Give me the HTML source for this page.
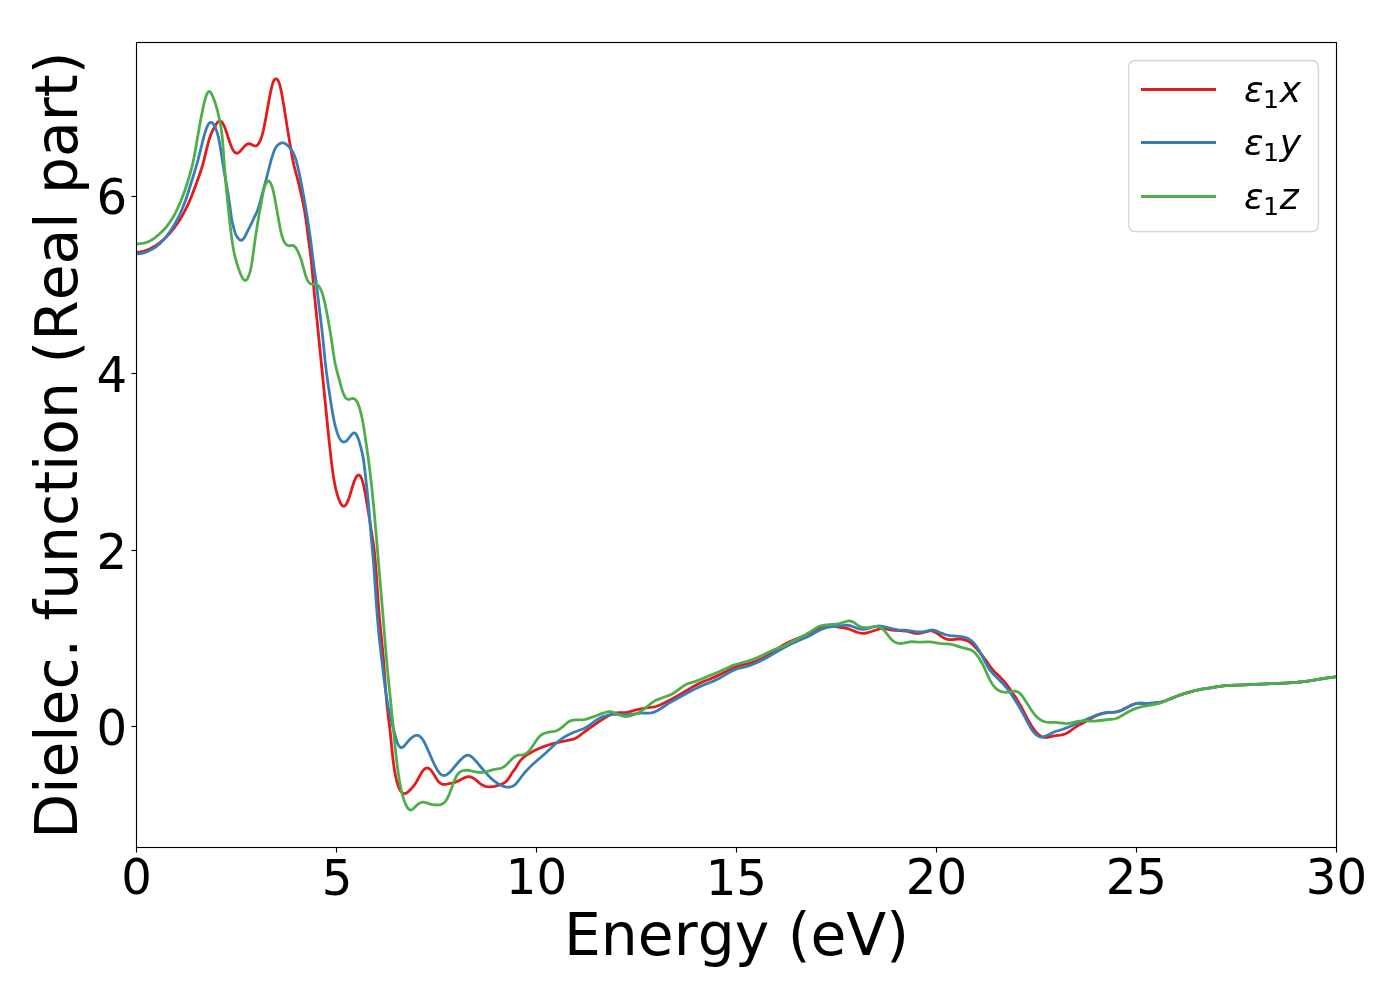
<!DOCTYPE html>
<html lang="en">
<head>
<meta charset="utf-8">
<title>Dielectric function (Real part)</title>
<style>
html,body{margin:0;padding:0;background:#fff;}
body{width:1400px;height:1000px;overflow:hidden;}
svg{display:block;}
text{font-family:'DejaVu Sans', 'Liberation Sans', sans-serif;fill:#000;font-kerning:none;}
.tick{font-size:48.61px;}
.lab{font-size:58.33px;}
.leg{font-size:36.11px;font-style:oblique;}
.sub{font-size:25.28px;font-style:normal;}
.crv{fill:none;stroke-width:2.78;stroke-linejoin:round;stroke-linecap:butt;}
</style>
</head>
<body>
<svg width="1400" height="1000" viewBox="0 0 1400 1000">
<rect x="0" y="0" width="1400" height="1000" fill="#ffffff"/>
<defs><clipPath id="ax"><rect x="136.5" y="42.5" width="1200" height="805"/></clipPath></defs>
<g clip-path="url(#ax)">
<path class="crv" stroke="#e41a1c" d="M136.50 252.20 L138.50 252.14 L140.50 251.91 L143.00 251.40 L145.50 250.66 L148.50 249.49 L152.00 247.78 L155.50 245.71 L159.00 243.27 L162.50 240.44 L166.00 237.22 L169.50 233.56 L173.00 229.44 L176.00 225.48 L179.00 221.08 L182.00 216.17 L184.50 211.65 L187.00 206.67 L189.50 201.17 L192.00 195.11 L194.50 188.60 L197.00 181.78 L199.50 174.77 L201.50 168.76 L203.00 163.72 L204.00 160.00 L205.50 153.89 L207.00 147.60 L208.00 143.61 L209.00 140.00 L210.00 136.90 L211.00 134.26 L212.00 131.96 L213.50 128.94 L215.50 125.29 L216.50 123.69 L217.00 122.99 L217.50 122.38 L218.00 121.86 L218.50 121.45 L219.00 121.16 L219.50 121.00 L220.00 120.99 L220.50 121.12 L221.00 121.38 L221.50 121.78 L222.00 122.31 L222.50 122.97 L223.00 123.75 L223.50 124.64 L224.00 125.65 L224.50 126.77 L225.50 129.33 L227.00 133.75 L229.00 140.02 L230.00 143.00 L231.00 145.70 L232.00 148.06 L232.50 149.08 L233.00 150.00 L233.50 150.80 L234.00 151.48 L234.50 152.05 L235.00 152.50 L235.50 152.84 L236.00 153.06 L236.50 153.18 L237.00 153.19 L237.50 153.10 L238.00 152.91 L238.50 152.63 L239.00 152.29 L239.50 151.87 L240.50 150.89 L244.00 146.87 L245.00 145.84 L246.00 144.96 L246.50 144.59 L247.00 144.28 L247.50 144.02 L248.00 143.84 L248.50 143.73 L249.00 143.70 L249.50 143.75 L250.00 143.87 L250.50 144.05 L253.50 145.57 L254.00 145.76 L254.50 145.91 L255.00 145.98 L255.50 145.97 L256.00 145.87 L256.50 145.66 L257.00 145.34 L257.50 144.90 L258.00 144.34 L258.50 143.68 L259.00 142.90 L259.50 142.01 L260.00 141.00 L260.50 139.88 L261.00 138.63 L261.50 137.23 L262.00 135.67 L262.50 133.94 L263.00 132.00 L263.50 129.86 L264.50 125.05 L266.00 117.00 L267.50 108.58 L269.00 100.28 L270.50 92.49 L271.50 87.87 L272.00 85.83 L272.50 84.03 L273.00 82.50 L273.50 81.26 L274.00 80.30 L274.50 79.60 L275.00 79.14 L275.50 78.88 L276.00 78.80 L276.50 78.89 L277.00 79.17 L277.50 79.64 L278.00 80.34 L278.50 81.29 L279.00 82.50 L279.50 83.99 L280.00 85.75 L280.50 87.76 L281.00 89.98 L282.00 95.00 L283.50 103.62 L284.50 109.83 L285.50 116.19 L286.50 122.56 L287.50 128.88 L288.50 135.08 L289.50 141.13 L290.50 147.07 L292.00 155.74 L293.00 160.99 L294.00 165.54 L295.50 171.45 L297.50 178.90 L299.00 184.89 L300.50 191.27 L302.00 198.00 L303.50 205.19 L304.50 210.55 L305.50 216.62 L306.50 223.63 L307.50 231.37 L308.50 239.22 L309.50 246.62 L310.50 254.01 L311.00 258.18 L311.50 262.91 L312.50 273.74 L313.50 285.00 L314.50 295.39 L315.50 305.15 L316.50 314.92 L317.50 324.92 L318.50 335.00 L319.50 345.03 L320.50 355.01 L321.50 365.00 L322.50 375.00 L323.50 385.00 L324.50 394.99 L325.50 404.99 L326.50 415.03 L327.50 425.07 L328.50 435.00 L329.50 444.69 L330.50 453.93 L331.50 462.48 L332.50 470.18 L333.50 476.96 L334.00 480.00 L334.50 482.80 L335.00 485.37 L335.50 487.73 L336.00 489.90 L337.00 493.73 L338.00 497.00 L339.00 499.82 L339.50 501.05 L340.00 502.17 L340.50 503.16 L341.00 504.02 L341.50 504.75 L342.00 505.34 L342.50 505.78 L343.00 506.08 L343.50 506.22 L344.00 506.20 L344.50 506.02 L345.00 505.68 L345.50 505.20 L346.00 504.56 L346.50 503.79 L347.00 502.88 L347.50 501.84 L348.00 500.67 L349.00 498.00 L350.00 494.92 L352.00 488.24 L353.00 485.00 L354.00 482.07 L354.50 480.75 L355.00 479.54 L355.50 478.45 L356.00 477.49 L356.50 476.67 L357.00 476.00 L357.50 475.50 L358.00 475.16 L358.50 475.00 L359.00 475.03 L359.50 475.26 L360.00 475.70 L360.50 476.34 L361.00 477.21 L361.50 478.30 L362.00 479.62 L362.50 481.19 L363.00 483.00 L363.50 485.06 L364.50 489.81 L366.00 498.00 L367.50 506.79 L368.50 512.89 L369.50 519.15 L370.50 525.52 L371.50 531.87 L372.50 538.10 L373.50 544.72 L374.00 548.51 L374.50 552.83 L375.00 557.80 L375.50 563.55 L376.00 570.04 L376.50 577.04 L377.00 584.35 L377.50 591.77 L378.00 599.07 L378.50 606.05 L379.00 612.51 L379.50 618.37 L380.50 628.85 L381.50 638.55 L382.50 648.57 L383.00 654.04 L383.50 660.00 L384.00 666.52 L384.50 673.43 L385.00 680.47 L385.50 687.41 L386.00 694.00 L386.50 700.00 L387.00 705.24 L387.50 709.84 L388.50 717.89 L389.50 725.70 L390.00 730.00 L391.00 739.83 L392.00 750.15 L392.50 755.00 L393.00 759.41 L393.50 763.38 L394.00 766.96 L394.50 770.17 L395.00 773.05 L395.50 775.65 L396.00 778.00 L396.50 780.13 L397.00 782.06 L397.50 783.80 L398.00 785.35 L398.50 786.74 L399.00 787.97 L399.50 789.05 L400.00 790.00 L400.50 790.82 L401.00 791.52 L401.50 792.11 L402.00 792.58 L402.50 792.96 L403.00 793.24 L403.50 793.43 L404.00 793.53 L404.50 793.55 L405.00 793.50 L405.50 793.38 L406.00 793.20 L406.50 792.96 L407.00 792.66 L408.00 791.94 L409.00 791.06 L411.50 788.45 L413.50 786.11 L415.00 784.12 L416.00 782.64 L417.00 781.00 L420.00 775.43 L421.50 772.79 L422.50 771.28 L423.00 770.62 L423.50 770.03 L424.00 769.51 L424.50 769.07 L425.00 768.69 L425.50 768.40 L426.00 768.18 L426.50 768.04 L427.00 767.98 L427.50 768.00 L428.00 768.11 L428.50 768.29 L429.00 768.55 L429.50 768.89 L430.00 769.30 L430.50 769.77 L431.50 770.90 L432.50 772.25 L434.00 774.62 L436.50 778.83 L437.50 780.33 L438.00 781.00 L438.50 781.60 L439.00 782.12 L439.50 782.58 L440.00 782.98 L440.50 783.32 L441.00 783.61 L441.50 783.85 L442.00 784.04 L443.00 784.30 L444.00 784.42 L445.00 784.42 L446.50 784.26 L452.50 782.97 L455.00 782.34 L456.50 781.81 L459.00 780.63 L463.50 778.22 L465.00 777.54 L466.00 777.18 L467.00 776.90 L468.00 776.74 L469.00 776.70 L470.00 776.80 L471.00 777.03 L472.00 777.39 L473.00 777.88 L474.00 778.50 L475.50 779.64 L479.50 783.11 L481.00 784.21 L482.50 785.11 L484.00 785.81 L485.50 786.32 L487.00 786.66 L488.50 786.84 L490.00 786.88 L492.00 786.75 L494.50 786.34 L498.00 785.47 L500.50 784.62 L502.50 783.75 L504.00 782.95 L505.00 782.30 L506.00 781.52 L507.00 780.56 L508.00 779.40 L509.00 778.00 L511.50 773.78 L512.50 772.29 L514.50 769.70 L515.50 768.23 L518.00 764.00 L519.00 762.47 L520.00 761.11 L521.00 759.90 L522.00 758.83 L523.50 757.42 L525.50 755.84 L528.00 754.17 L533.50 751.09 L539.00 748.43 L545.00 746.09 L551.00 744.21 L557.00 742.66 L563.00 741.40 L569.00 740.22 L572.50 739.38 L574.00 738.89 L575.50 738.25 L577.00 737.43 L579.00 736.08 L584.00 732.25 L589.00 728.70 L594.00 725.19 L599.00 721.69 L604.00 718.35 L608.00 716.01 L611.00 714.55 L613.00 713.77 L615.00 713.18 L616.50 712.87 L618.50 712.67 L624.50 712.62 L626.50 712.43 L629.00 711.93 L635.00 710.22 L641.00 708.77 L646.00 707.77 L652.00 707.16 L654.50 706.84 L656.00 706.50 L657.50 706.02 L660.50 704.74 L666.00 702.01 L671.50 699.22 L677.00 696.22 L682.50 693.02 L688.00 689.71 L693.50 686.43 L698.00 684.00 L703.50 681.57 L709.50 679.20 L715.50 676.62 L721.00 674.01 L726.50 671.26 L732.00 668.51 L735.50 666.92 L738.00 666.00 L741.50 665.11 L747.50 663.88 L752.50 662.40 L758.50 660.11 L762.50 658.26 L767.00 655.72 L772.50 652.10 L777.50 648.65 L783.00 645.16 L788.50 642.21 L794.00 639.76 L800.00 637.50 L806.00 635.31 L809.00 634.00 L814.50 630.94 L818.00 629.00 L820.50 627.88 L823.00 627.02 L825.50 626.39 L827.50 626.07 L829.50 625.92 L831.50 625.96 L833.50 626.20 L839.50 627.41 L845.50 628.19 L847.50 628.57 L849.50 629.17 L855.50 631.61 L858.00 632.49 L860.00 633.00 L861.50 633.23 L863.00 633.32 L864.50 633.26 L866.00 633.05 L868.50 632.45 L874.50 630.51 L878.50 629.22 L880.50 628.74 L882.00 628.54 L883.00 628.50 L884.50 628.59 L890.50 629.79 L894.50 630.29 L900.50 630.62 L905.00 630.99 L908.00 631.50 L914.00 633.03 L916.00 633.39 L917.50 633.50 L919.00 633.44 L920.50 633.22 L926.50 631.55 L928.50 631.06 L929.50 630.92 L930.50 630.86 L931.50 630.92 L932.50 631.11 L933.50 631.43 L934.50 631.87 L936.00 632.69 L941.00 636.13 L943.00 637.43 L944.50 638.25 L946.00 638.89 L947.50 639.34 L949.00 639.62 L950.50 639.71 L952.50 639.61 L957.00 639.06 L958.50 638.99 L960.50 639.08 L962.50 639.37 L964.50 639.85 L966.50 640.51 L968.00 641.14 L969.50 641.96 L970.50 642.63 L971.50 643.40 L973.00 644.77 L975.50 647.43 L979.50 652.16 L983.50 657.13 L986.00 660.50 L989.50 665.64 L991.00 667.70 L992.50 669.52 L994.50 671.65 L999.00 675.97 L1002.50 679.61 L1005.50 683.11 L1009.50 688.42 L1013.00 693.47 L1016.50 698.86 L1020.00 704.74 L1023.00 710.22 L1026.00 715.91 L1029.00 721.53 L1031.00 725.00 L1032.50 727.37 L1034.00 729.52 L1035.50 731.42 L1037.00 733.07 L1038.00 734.03 L1039.00 734.87 L1040.00 735.59 L1041.00 736.20 L1042.00 736.69 L1043.00 737.06 L1044.00 737.31 L1045.00 737.46 L1046.00 737.50 L1047.00 737.44 L1048.50 737.20 L1054.00 735.80 L1060.00 735.10 L1062.00 734.80 L1063.50 734.44 L1065.00 733.95 L1066.50 733.31 L1068.00 732.50 L1070.00 731.18 L1075.00 727.50 L1078.00 725.65 L1083.50 722.68 L1089.00 719.56 L1094.50 716.61 L1098.00 715.00 L1101.00 713.88 L1103.50 713.18 L1106.00 712.70 L1112.00 712.28 L1115.00 712.05 L1117.00 711.73 L1118.50 711.36 L1120.50 710.67 L1123.50 709.31 L1129.00 706.37 L1131.50 705.13 L1133.50 704.32 L1135.50 703.73 L1137.50 703.35 L1139.50 703.18 L1145.50 703.42 L1148.50 703.49 L1154.50 702.97 L1159.50 702.38 L1162.00 701.86 L1165.50 700.77 L1171.50 698.37 L1177.50 695.93 L1183.50 693.85 L1189.50 692.14 L1195.50 690.53 L1201.50 689.22 L1207.50 688.27 L1213.50 687.33 L1219.50 686.36 L1225.50 685.66 L1231.50 685.33 L1237.50 685.17 L1243.50 684.97 L1249.50 684.67 L1255.50 684.34 L1261.50 684.03 L1267.50 683.77 L1273.50 683.55 L1279.50 683.32 L1285.50 683.06 L1291.50 682.72 L1297.50 682.25 L1303.50 681.60 L1309.50 680.77 L1315.50 679.84 L1321.50 678.85 L1327.50 677.90 L1333.50 677.06 L1336.50 676.70"/>
<path class="crv" stroke="#377eb8" d="M136.50 253.90 L138.00 253.91 L140.00 253.73 L142.00 253.36 L144.50 252.64 L147.50 251.48 L151.50 249.52 L154.50 247.75 L157.00 246.01 L159.00 244.39 L161.00 242.55 L163.50 239.90 L166.00 236.92 L169.00 232.92 L172.00 228.52 L174.50 224.48 L177.00 220.03 L179.00 216.10 L181.00 211.80 L183.00 207.07 L185.00 201.83 L187.00 196.02 L189.00 189.72 L191.00 183.23 L193.00 176.81 L195.00 170.41 L197.00 163.64 L198.50 158.09 L200.00 152.12 L201.50 145.99 L203.00 140.00 L204.50 134.44 L205.50 131.13 L206.50 128.25 L207.00 127.00 L207.50 125.89 L208.00 124.93 L208.50 124.12 L209.00 123.45 L209.50 122.94 L210.00 122.57 L210.50 122.36 L211.00 122.30 L211.50 122.40 L212.00 122.64 L212.50 123.03 L213.00 123.56 L213.50 124.21 L214.00 124.99 L214.50 125.89 L215.00 126.89 L215.50 128.00 L216.00 129.21 L216.50 130.55 L217.00 132.03 L217.50 133.69 L218.00 135.56 L218.50 137.65 L219.00 140.00 L219.50 142.62 L220.50 148.49 L221.50 154.84 L222.50 161.27 L223.50 167.47 L224.50 173.43 L226.00 182.00 L227.50 190.41 L228.50 196.44 L229.50 203.26 L230.50 210.94 L231.00 214.63 L231.50 217.89 L232.00 220.66 L232.50 223.05 L233.50 227.18 L234.50 230.80 L235.00 232.37 L235.50 233.75 L236.00 234.91 L236.50 235.87 L237.00 236.68 L237.50 237.37 L238.50 238.59 L239.00 239.13 L239.50 239.60 L240.00 239.97 L240.50 240.22 L241.00 240.32 L241.50 240.27 L242.00 240.07 L242.50 239.74 L243.00 239.27 L243.50 238.69 L244.00 238.00 L244.50 237.21 L245.50 235.41 L248.50 229.41 L251.50 223.28 L254.50 216.96 L256.00 213.82 L257.00 211.52 L258.00 208.91 L259.00 205.87 L260.00 202.32 L262.00 194.74 L264.00 187.43 L266.00 180.00 L267.50 174.16 L269.00 168.26 L271.00 160.72 L272.00 157.24 L273.00 154.07 L274.00 151.30 L274.50 150.08 L275.00 149.00 L275.50 148.05 L276.00 147.23 L276.50 146.52 L277.00 145.91 L277.50 145.38 L278.50 144.50 L279.50 143.79 L280.00 143.50 L280.50 143.26 L281.00 143.06 L281.50 142.92 L282.00 142.83 L282.50 142.80 L283.00 142.83 L283.50 142.92 L284.00 143.07 L284.50 143.26 L285.50 143.80 L286.50 144.50 L287.50 145.35 L288.50 146.32 L290.00 148.00 L291.00 149.26 L292.00 150.70 L293.00 152.41 L293.50 153.39 L294.00 154.47 L294.50 155.66 L295.00 156.97 L295.50 158.42 L296.00 160.00 L297.00 163.61 L298.00 167.71 L299.50 174.58 L301.00 181.98 L302.50 189.79 L304.00 198.00 L305.50 206.63 L306.50 212.62 L307.50 218.82 L308.50 225.24 L309.50 231.96 L310.50 239.16 L311.50 247.00 L312.50 255.20 L313.50 263.06 L314.50 270.36 L315.50 277.51 L316.50 285.00 L317.50 293.13 L318.50 301.62 L319.50 310.00 L320.50 318.02 L321.50 326.14 L322.50 335.00 L323.50 344.95 L324.50 355.16 L325.50 364.51 L326.50 372.66 L327.50 380.00 L328.50 386.90 L329.50 393.53 L330.50 400.00 L331.50 406.37 L332.50 412.46 L333.50 418.00 L334.50 422.81 L335.50 426.92 L336.50 430.43 L337.50 433.45 L338.00 434.79 L338.50 436.02 L339.00 437.13 L339.50 438.12 L340.00 439.00 L340.50 439.76 L341.00 440.40 L341.50 440.93 L342.00 441.35 L342.50 441.67 L343.00 441.88 L343.50 441.99 L344.00 442.00 L344.50 441.92 L345.00 441.75 L345.50 441.50 L346.00 441.17 L346.50 440.78 L347.00 440.32 L348.00 439.25 L351.00 435.32 L351.50 434.71 L352.00 434.16 L352.50 433.70 L353.00 433.33 L353.50 433.08 L354.00 432.96 L354.50 433.00 L355.00 433.21 L355.50 433.59 L356.00 434.14 L356.50 434.85 L357.00 435.74 L357.50 436.79 L358.00 438.00 L358.50 439.37 L359.50 442.53 L361.00 448.00 L362.00 452.05 L362.50 454.37 L363.00 456.99 L363.50 460.00 L364.00 463.46 L365.00 471.49 L366.00 480.41 L367.00 489.59 L368.00 499.15 L368.50 504.35 L369.00 510.00 L369.50 516.14 L370.00 522.55 L370.50 528.93 L371.00 535.00 L372.00 545.79 L373.00 556.47 L373.50 562.49 L374.00 569.14 L374.50 576.26 L375.00 583.68 L375.50 591.21 L376.00 598.66 L376.50 605.87 L377.00 612.65 L377.50 618.92 L378.50 630.15 L379.50 640.01 L380.50 648.96 L381.50 657.47 L382.50 665.95 L383.50 674.38 L384.50 682.49 L385.50 690.00 L386.50 696.69 L387.50 702.61 L388.50 707.92 L390.00 715.00 L391.50 721.39 L393.00 727.32 L395.00 734.87 L396.00 738.45 L397.00 741.64 L397.50 743.00 L398.00 744.17 L398.50 745.15 L399.00 745.96 L399.50 746.59 L400.00 747.07 L400.50 747.39 L401.00 747.57 L401.50 747.62 L402.00 747.54 L402.50 747.35 L403.00 747.05 L403.50 746.67 L404.00 746.22 L405.00 745.13 L408.00 741.40 L409.50 739.76 L411.00 738.33 L412.50 737.12 L413.50 736.43 L414.50 735.88 L415.00 735.66 L415.50 735.49 L416.00 735.36 L416.50 735.29 L417.00 735.28 L417.50 735.33 L418.00 735.44 L418.50 735.61 L419.00 735.85 L419.50 736.14 L420.00 736.51 L420.50 736.93 L421.00 737.42 L421.50 737.97 L422.50 739.26 L423.50 740.80 L424.50 742.57 L426.00 745.57 L428.50 751.15 L431.00 756.96 L433.50 762.60 L435.00 765.74 L436.50 768.57 L437.50 770.24 L438.50 771.70 L439.50 772.93 L440.00 773.46 L440.50 773.93 L441.00 774.33 L441.50 774.68 L442.00 774.97 L442.50 775.20 L443.00 775.36 L443.50 775.46 L444.00 775.50 L444.50 775.48 L445.00 775.39 L445.50 775.25 L446.00 775.06 L446.50 774.81 L447.50 774.19 L448.50 773.41 L450.00 772.00 L452.00 769.82 L456.00 765.00 L459.50 761.01 L462.00 758.50 L463.50 757.19 L464.50 756.44 L465.50 755.84 L466.00 755.61 L466.50 755.42 L467.00 755.29 L467.50 755.21 L468.00 755.20 L468.50 755.25 L469.00 755.36 L469.50 755.53 L470.00 755.76 L471.00 756.35 L472.00 757.11 L473.50 758.49 L476.00 761.20 L480.00 766.00 L484.00 770.74 L488.50 775.70 L491.50 778.66 L494.00 780.83 L496.50 782.69 L499.00 784.25 L501.00 785.31 L503.00 786.17 L504.50 786.66 L506.00 787.01 L507.50 787.19 L508.50 787.21 L509.50 787.14 L510.50 786.97 L511.50 786.70 L512.50 786.29 L513.50 785.75 L514.50 785.06 L515.50 784.20 L516.50 783.17 L518.00 781.38 L522.00 776.00 L524.50 772.88 L527.50 769.53 L532.00 765.09 L536.50 761.05 L541.50 756.69 L546.00 752.68 L550.50 748.53 L555.00 744.29 L559.00 740.79 L561.50 738.89 L564.50 736.92 L568.50 734.72 L574.00 732.26 L580.00 730.00 L583.50 728.70 L585.50 727.77 L587.00 726.90 L590.00 724.79 L595.00 721.00 L597.50 719.37 L600.00 718.01 L602.50 716.89 L605.00 716.00 L608.00 715.22 L611.00 714.71 L615.00 714.38 L621.00 714.39 L627.00 714.52 L631.00 714.40 L637.00 713.57 L640.00 713.20 L646.00 713.20 L649.00 713.17 L651.00 712.95 L652.50 712.64 L654.00 712.16 L655.50 711.53 L658.00 710.21 L663.50 706.72 L669.00 703.12 L674.50 699.93 L680.00 697.00 L685.50 693.98 L691.00 690.96 L696.50 688.13 L702.00 685.64 L708.00 683.27 L714.00 680.88 L718.50 678.79 L724.00 675.64 L729.50 672.28 L733.00 670.44 L735.50 669.36 L738.00 668.50 L744.00 667.18 L747.00 666.50 L750.00 665.54 L756.00 663.06 L761.50 660.47 L767.00 657.52 L772.50 654.35 L778.00 651.16 L783.50 647.99 L789.00 645.01 L794.50 642.37 L800.50 639.79 L806.50 637.22 L811.00 634.96 L816.50 631.82 L820.00 629.99 L823.00 628.69 L825.50 627.85 L828.00 627.26 L832.00 626.70 L838.00 626.22 L844.00 625.41 L846.00 625.24 L847.50 625.26 L849.00 625.44 L850.50 625.79 L856.50 627.96 L858.50 628.63 L860.00 629.00 L861.50 629.22 L863.00 629.29 L864.50 629.21 L866.00 629.00 L868.50 628.39 L874.00 626.72 L876.00 626.28 L877.50 626.07 L879.00 626.00 L880.50 626.08 L882.50 626.37 L888.50 627.87 L894.00 629.20 L898.00 629.81 L904.00 630.21 L908.00 630.50 L914.00 631.43 L917.50 631.89 L919.50 632.00 L921.50 631.94 L924.00 631.64 L930.00 630.26 L931.50 630.02 L932.50 629.98 L933.50 630.05 L934.50 630.25 L936.00 630.72 L941.50 633.16 L944.50 634.29 L947.00 635.00 L950.00 635.53 L956.00 636.08 L961.50 636.73 L964.50 637.33 L966.00 637.76 L967.50 638.32 L968.50 638.80 L969.50 639.37 L970.50 640.05 L971.50 640.85 L972.50 641.75 L974.00 643.32 L975.50 645.13 L977.00 647.19 L978.50 649.49 L980.50 652.89 L983.50 658.54 L986.50 664.37 L988.00 667.07 L989.00 668.70 L990.00 670.15 L991.00 671.45 L992.50 673.17 L997.00 677.65 L1001.50 682.18 L1005.00 686.00 L1008.00 689.67 L1010.50 693.10 L1014.00 698.41 L1017.50 704.06 L1021.00 710.00 L1024.00 715.37 L1027.00 721.00 L1030.00 726.69 L1031.50 729.24 L1032.50 730.71 L1033.50 732.00 L1034.50 733.11 L1035.50 734.07 L1036.50 734.90 L1037.50 735.61 L1038.50 736.19 L1039.50 736.63 L1040.50 736.92 L1041.00 737.00 L1042.00 737.04 L1043.00 736.93 L1044.00 736.70 L1045.50 736.18 L1051.00 733.43 L1053.50 732.22 L1056.00 731.25 L1062.00 729.50 L1068.00 727.33 L1074.00 724.76 L1079.50 722.35 L1085.00 719.95 L1090.50 717.48 L1095.50 715.43 L1099.50 714.13 L1103.00 713.29 L1107.50 712.62 L1113.50 712.18 L1116.00 711.91 L1118.00 711.50 L1120.00 710.87 L1122.50 709.80 L1128.00 706.91 L1131.50 705.13 L1133.50 704.32 L1135.50 703.73 L1137.50 703.35 L1139.50 703.18 L1145.50 703.42 L1148.50 703.49 L1154.50 702.97 L1159.50 702.38 L1162.00 701.86 L1165.50 700.77 L1171.50 698.37 L1177.50 695.93 L1183.50 693.85 L1189.50 692.14 L1195.50 690.53 L1201.50 689.22 L1207.50 688.27 L1213.50 687.33 L1219.50 686.36 L1225.50 685.66 L1231.50 685.33 L1237.50 685.17 L1243.50 684.97 L1249.50 684.67 L1255.50 684.34 L1261.50 684.03 L1267.50 683.77 L1273.50 683.55 L1279.50 683.32 L1285.50 683.06 L1291.50 682.72 L1297.50 682.25 L1303.50 681.60 L1309.50 680.77 L1315.50 679.84 L1321.50 678.85 L1327.50 677.90 L1333.50 677.06 L1336.50 676.70"/>
<path class="crv" stroke="#4daf4a" d="M136.50 244.00 L140.50 243.70 L143.50 243.20 L146.00 242.54 L148.00 241.82 L150.00 240.90 L152.00 239.77 L154.50 238.08 L157.50 235.71 L161.50 232.08 L164.50 228.99 L167.00 226.07 L169.00 223.43 L171.00 220.49 L173.00 217.21 L175.00 213.59 L177.50 208.57 L180.00 203.00 L182.50 196.84 L184.50 191.43 L186.50 185.53 L188.50 179.13 L190.50 172.23 L192.00 166.55 L193.00 162.31 L194.00 157.55 L195.50 149.52 L197.00 140.86 L198.50 132.10 L200.00 123.60 L201.50 115.55 L203.00 108.13 L204.00 103.67 L205.00 99.73 L205.50 98.00 L206.00 96.44 L206.50 95.07 L207.00 93.90 L207.50 92.95 L208.00 92.22 L208.50 91.73 L209.00 91.50 L209.50 91.53 L210.00 91.79 L210.50 92.28 L211.00 92.95 L211.50 93.78 L212.00 94.75 L213.00 97.00 L214.00 99.53 L215.00 102.34 L216.00 105.48 L217.00 109.00 L218.00 112.93 L219.00 117.27 L220.00 122.00 L220.50 124.54 L221.00 127.40 L221.50 130.78 L222.00 134.91 L222.50 140.00 L223.00 146.15 L223.50 152.98 L224.00 160.00 L224.50 166.78 L225.00 173.22 L225.50 179.30 L226.50 190.32 L227.50 200.21 L228.50 209.80 L229.50 219.33 L230.50 228.37 L231.50 236.55 L232.00 240.19 L232.50 243.54 L233.00 246.60 L233.50 249.42 L234.00 252.00 L235.00 256.57 L236.00 260.49 L237.00 263.91 L238.50 268.46 L239.50 271.23 L240.50 273.76 L241.50 276.00 L242.00 277.00 L242.50 277.91 L243.00 278.71 L243.50 279.38 L244.00 279.91 L244.50 280.29 L245.00 280.48 L245.50 280.48 L246.00 280.28 L246.50 279.87 L247.00 279.27 L247.50 278.48 L248.00 277.50 L248.50 276.34 L249.00 275.00 L249.50 273.49 L250.00 271.77 L250.50 269.80 L251.00 267.54 L251.50 264.95 L252.00 262.00 L252.50 258.67 L253.50 251.27 L254.50 243.72 L255.50 236.83 L256.50 230.41 L257.50 224.01 L258.50 217.77 L259.50 212.12 L261.00 204.21 L262.50 195.66 L263.00 193.00 L263.50 190.69 L264.00 188.73 L264.50 187.08 L265.00 185.68 L265.50 184.50 L266.00 183.50 L266.50 182.64 L267.00 181.93 L267.50 181.41 L268.00 181.09 L268.50 181.00 L269.00 181.16 L269.50 181.55 L270.00 182.17 L270.50 182.99 L271.00 184.00 L271.50 185.19 L272.00 186.57 L272.50 188.17 L273.00 190.00 L273.50 192.08 L274.50 196.84 L276.00 205.00 L277.50 213.58 L279.00 222.00 L280.00 227.27 L281.00 232.01 L281.50 234.12 L282.00 236.00 L282.50 237.64 L283.00 239.07 L283.50 240.29 L284.00 241.33 L284.50 242.23 L285.00 243.00 L285.50 243.66 L286.00 244.23 L286.50 244.70 L287.00 245.09 L287.50 245.38 L288.00 245.60 L288.50 245.74 L289.00 245.80 L289.50 245.80 L291.50 245.48 L292.00 245.43 L292.50 245.43 L293.00 245.50 L293.50 245.66 L294.00 245.92 L294.50 246.27 L295.00 246.74 L295.50 247.31 L296.00 248.00 L296.50 248.81 L297.50 250.70 L299.50 255.15 L300.50 257.65 L301.00 259.07 L301.50 260.66 L302.50 264.27 L304.00 270.00 L305.00 273.47 L306.00 276.49 L306.50 277.81 L307.00 279.00 L307.50 280.05 L308.00 280.96 L308.50 281.74 L309.00 282.40 L309.50 282.95 L310.00 283.40 L310.50 283.75 L311.00 284.00 L311.50 284.17 L312.00 284.28 L313.00 284.34 L315.00 284.30 L315.50 284.35 L316.00 284.44 L316.50 284.58 L317.00 284.80 L317.50 285.09 L318.00 285.46 L318.50 285.93 L319.00 286.50 L319.50 287.18 L320.00 287.99 L320.50 288.92 L321.00 289.98 L321.50 291.17 L322.00 292.51 L322.50 294.00 L323.00 295.64 L324.00 299.37 L325.00 303.66 L326.00 308.46 L327.50 316.42 L329.00 324.83 L330.50 333.62 L331.50 340.00 L332.50 346.88 L333.50 353.77 L334.50 360.00 L335.00 362.69 L335.50 365.12 L336.50 369.36 L338.50 376.89 L340.50 384.47 L341.50 388.00 L342.50 391.15 L343.00 392.56 L343.50 393.85 L344.00 394.99 L344.50 396.00 L345.00 396.86 L345.50 397.57 L346.00 398.15 L346.50 398.60 L347.00 398.94 L347.50 399.17 L348.00 399.30 L348.50 399.35 L349.00 399.32 L350.00 399.12 L351.50 398.69 L352.00 398.58 L352.50 398.51 L353.00 398.50 L353.50 398.57 L354.00 398.72 L354.50 398.96 L355.00 399.30 L355.50 399.75 L356.00 400.31 L356.50 401.00 L357.00 401.81 L357.50 402.76 L358.00 403.85 L358.50 405.08 L359.00 406.47 L359.50 408.00 L360.00 409.69 L361.00 413.54 L362.00 418.00 L363.00 423.07 L364.00 428.83 L365.00 435.37 L366.00 442.45 L367.00 449.47 L368.00 456.41 L369.00 463.76 L370.00 471.78 L371.00 480.45 L372.00 489.70 L373.00 499.54 L374.00 510.00 L375.00 521.09 L376.00 532.65 L377.00 544.49 L378.00 556.43 L379.00 568.28 L380.00 580.06 L381.00 591.89 L382.00 603.89 L382.50 610.00 L383.00 616.19 L383.50 622.43 L384.00 628.68 L384.50 634.91 L385.00 641.08 L385.50 647.16 L386.50 658.87 L387.50 669.81 L388.50 680.13 L389.50 690.08 L390.50 699.93 L391.50 709.84 L392.50 719.90 L393.50 730.15 L394.50 740.42 L395.50 750.32 L396.50 759.44 L397.50 767.58 L398.50 774.76 L399.50 781.01 L400.50 786.39 L401.50 791.01 L402.50 795.00 L403.50 798.45 L404.50 801.41 L405.00 802.72 L405.50 803.91 L406.00 805.00 L406.50 805.98 L407.00 806.87 L407.50 807.64 L408.00 808.31 L408.50 808.87 L409.00 809.32 L409.50 809.66 L410.00 809.89 L410.50 810.00 L411.00 810.00 L411.50 809.89 L412.00 809.67 L412.50 809.37 L413.00 808.99 L414.00 808.07 L416.50 805.51 L417.50 804.62 L418.50 803.86 L419.50 803.23 L420.50 802.73 L421.50 802.39 L422.50 802.20 L423.50 802.17 L424.50 802.28 L425.50 802.49 L430.50 804.15 L432.50 804.62 L434.50 804.90 L437.00 805.01 L438.50 804.96 L439.50 804.85 L440.50 804.64 L441.50 804.31 L442.50 803.81 L443.00 803.50 L443.50 803.13 L444.00 802.72 L444.50 802.24 L445.00 801.70 L445.50 801.10 L446.00 800.43 L446.50 799.69 L447.50 797.98 L448.50 795.94 L449.50 793.61 L452.00 787.00 L454.00 781.60 L455.00 779.14 L456.00 777.00 L456.50 776.08 L457.00 775.26 L457.50 774.53 L458.00 773.88 L458.50 773.31 L459.00 772.82 L459.50 772.38 L460.50 771.67 L461.50 771.13 L462.50 770.75 L463.50 770.50 L464.50 770.35 L466.00 770.26 L468.00 770.34 L471.00 770.78 L477.00 772.08 L479.00 772.39 L480.50 772.50 L482.00 772.46 L484.00 772.20 L487.00 771.49 L492.50 769.85 L494.50 769.41 L499.00 768.73 L500.50 768.36 L501.50 768.01 L502.50 767.58 L503.50 767.03 L504.50 766.38 L505.50 765.59 L507.00 764.20 L511.50 759.49 L513.00 758.08 L514.00 757.25 L515.00 756.53 L516.00 755.94 L517.00 755.50 L518.00 755.22 L519.00 755.06 L522.50 754.81 L523.50 754.63 L524.50 754.33 L525.50 753.87 L526.50 753.26 L527.50 752.48 L528.50 751.53 L529.50 750.42 L531.00 748.48 L534.50 743.22 L536.50 740.21 L538.00 738.17 L539.00 737.00 L540.00 736.01 L541.00 735.19 L542.00 734.51 L543.00 733.96 L544.50 733.30 L546.00 732.80 L548.50 732.24 L554.00 731.40 L555.50 731.03 L556.50 730.70 L557.50 730.28 L559.00 729.48 L560.50 728.49 L562.50 726.93 L567.00 722.93 L568.00 722.16 L569.00 721.50 L570.00 720.98 L571.00 720.59 L572.00 720.31 L573.50 720.05 L576.00 719.90 L581.50 719.91 L583.50 719.74 L585.50 719.36 L589.50 718.17 L595.50 715.97 L601.50 713.66 L605.00 712.50 L607.00 711.99 L608.50 711.76 L609.50 711.70 L610.50 711.74 L611.50 711.89 L612.50 712.14 L614.00 712.67 L619.50 715.06 L621.50 715.76 L623.00 716.16 L624.50 716.41 L625.50 716.49 L626.50 716.49 L628.00 716.34 L630.00 715.92 L634.50 714.48 L637.00 713.48 L639.00 712.47 L641.50 710.91 L645.00 708.31 L650.00 704.20 L652.50 702.33 L654.50 701.09 L657.00 699.84 L663.00 697.53 L669.00 695.41 L671.50 694.31 L673.50 693.20 L676.50 691.15 L681.50 687.38 L684.00 685.66 L686.00 684.49 L687.50 683.78 L689.50 683.04 L695.50 681.34 L701.50 679.00 L707.50 676.48 L713.50 674.11 L719.50 671.56 L725.00 669.00 L730.50 666.41 L734.00 665.00 L740.00 663.27 L746.00 661.71 L752.00 659.67 L758.00 657.27 L763.50 654.75 L769.00 651.98 L774.50 649.57 L780.50 647.36 L784.50 645.73 L790.00 642.82 L795.50 639.74 L801.00 637.05 L805.50 634.72 L811.00 631.32 L816.00 628.08 L818.00 626.97 L819.50 626.30 L821.00 625.79 L823.00 625.31 L826.50 624.84 L832.50 624.48 L836.00 624.21 L838.00 623.91 L840.00 623.44 L846.00 621.50 L847.50 621.14 L848.50 621.00 L849.50 620.97 L850.50 621.07 L851.50 621.30 L852.50 621.68 L853.50 622.19 L854.50 622.84 L857.50 625.15 L858.50 625.82 L859.50 626.37 L860.50 626.81 L861.50 627.15 L863.00 627.50 L864.50 627.68 L866.00 627.72 L868.00 627.59 L874.00 626.60 L875.50 626.47 L876.50 626.47 L877.50 626.56 L878.50 626.75 L879.50 627.07 L880.50 627.52 L881.50 628.13 L882.50 628.91 L883.50 629.85 L885.00 631.51 L889.00 636.59 L890.50 638.42 L891.50 639.51 L892.50 640.45 L893.50 641.23 L894.50 641.87 L895.50 642.38 L896.50 642.79 L897.50 643.11 L898.50 643.34 L899.50 643.47 L900.50 643.51 L902.00 643.41 L904.50 642.95 L908.50 642.03 L910.00 641.80 L912.00 641.69 L918.00 642.09 L921.00 642.21 L927.00 641.97 L929.50 641.97 L932.00 642.20 L938.00 643.22 L941.00 643.60 L947.00 643.89 L950.00 644.15 L952.00 644.50 L955.00 645.34 L960.50 647.14 L966.50 648.60 L969.00 649.30 L970.50 649.85 L971.50 650.32 L972.50 650.90 L973.50 651.60 L974.50 652.44 L975.50 653.45 L976.50 654.59 L978.00 656.55 L979.50 658.76 L981.00 661.22 L982.50 663.96 L984.00 667.00 L986.50 672.63 L988.50 677.07 L990.00 680.06 L991.50 682.72 L992.50 684.28 L993.50 685.67 L994.50 686.89 L995.50 687.95 L996.50 688.87 L997.50 689.65 L998.50 690.32 L999.50 690.87 L1000.50 691.33 L1001.50 691.69 L1002.50 691.95 L1004.00 692.20 L1005.50 692.28 L1007.50 692.17 L1013.00 691.27 L1014.00 691.19 L1015.00 691.20 L1016.00 691.34 L1017.00 691.62 L1018.00 692.07 L1019.00 692.69 L1020.00 693.50 L1021.00 694.51 L1022.00 695.70 L1023.50 697.74 L1027.00 703.18 L1030.50 708.78 L1032.50 711.75 L1034.00 713.77 L1035.50 715.57 L1037.00 717.11 L1038.50 718.41 L1040.00 719.50 L1041.50 720.39 L1043.00 721.09 L1044.50 721.62 L1046.00 722.00 L1048.00 722.30 L1054.00 722.48 L1060.00 722.86 L1065.50 723.46 L1067.00 723.53 L1068.50 723.46 L1070.50 723.15 L1076.50 721.63 L1079.50 721.05 L1082.00 720.80 L1085.00 720.81 L1091.00 721.18 L1094.50 721.13 L1100.50 720.50 L1106.50 719.75 L1112.50 719.18 L1114.50 718.88 L1116.00 718.50 L1117.50 717.95 L1119.50 717.01 L1125.00 713.81 L1130.00 711.00 L1134.00 709.13 L1137.50 707.83 L1141.50 706.72 L1147.50 705.58 L1153.50 704.59 L1158.00 703.59 L1162.00 702.32 L1168.00 699.87 L1174.00 697.30 L1180.00 695.00 L1186.00 693.12 L1192.00 691.45 L1198.00 689.93 L1204.00 688.80 L1210.00 687.90 L1216.00 686.91 L1222.00 686.02 L1228.00 685.49 L1234.00 685.26 L1240.00 685.10 L1246.00 684.85 L1252.00 684.53 L1258.00 684.20 L1264.00 683.92 L1270.00 683.68 L1276.00 683.45 L1282.00 683.22 L1288.00 682.93 L1294.00 682.54 L1300.00 682.00 L1306.00 681.27 L1312.00 680.39 L1318.00 679.43 L1324.00 678.45 L1330.00 677.53 L1336.00 676.76 L1336.50 676.70"/>
</g>
<g stroke="#000" stroke-width="1.11" fill="none" stroke-linecap="butt">
<rect x="136.5" y="42.5" width="1200" height="805" stroke-linejoin="miter"/>
<line x1="136.5" y1="847.5" x2="136.5" y2="852.55"/>
<line x1="336.5" y1="847.5" x2="336.5" y2="852.55"/>
<line x1="536.5" y1="847.5" x2="536.5" y2="852.55"/>
<line x1="736.5" y1="847.5" x2="736.5" y2="852.55"/>
<line x1="936.5" y1="847.5" x2="936.5" y2="852.55"/>
<line x1="1136.5" y1="847.5" x2="1136.5" y2="852.55"/>
<line x1="1336.5" y1="847.5" x2="1336.5" y2="852.55"/>
<line x1="136.5" y1="726.5" x2="131.45" y2="726.5"/>
<line x1="136.5" y1="550.5" x2="131.45" y2="550.5"/>
<line x1="136.5" y1="373.5" x2="131.45" y2="373.5"/>
<line x1="136.5" y1="196.5" x2="131.45" y2="196.5"/>
</g>
<text class="tick" transform="translate(136.5 893.9) scale(0.991 1.028)" text-anchor="middle">0</text>
<text class="tick" transform="translate(337.1 894.9) scale(0.991 1.028)" text-anchor="middle">5</text>
<text class="tick" transform="translate(536.5 893.9) scale(0.991 1.028)" text-anchor="middle">10</text>
<text class="tick" transform="translate(736.3 894.9) scale(0.991 1.028)" text-anchor="middle">15</text>
<text class="tick" transform="translate(936.5 893.9) scale(0.991 1.028)" text-anchor="middle">20</text>
<text class="tick" transform="translate(1136.3 893.9) scale(0.991 1.028)" text-anchor="middle">25</text>
<text class="tick" transform="translate(1336.5 893.9) scale(0.991 1.028)" text-anchor="middle">30</text>
<text class="tick" transform="translate(127.2 744.5) scale(0.991 1.028)" text-anchor="end">0</text>
<text class="tick" transform="translate(127.2 568.5) scale(0.991 1.028)" text-anchor="end">2</text>
<text class="tick" transform="translate(127.2 391.5) scale(0.991 1.028)" text-anchor="end">4</text>
<text class="tick" transform="translate(127.2 213.5) scale(0.991 1.028)" text-anchor="end">6</text>
<text class="lab" x="736.5" y="955" text-anchor="middle">Energy (eV)</text>
<text class="lab" transform="translate(76.9 445.1) rotate(-90)" text-anchor="middle">Dielec. function (Real part)</text>
<path d="M1135.8 60.5 L1311.2 60.5 Q1318.4 60.5 1318.4 67.7 L1318.4 224.4 Q1318.4 231.6 1311.2 231.6 L1135.8 231.6 Q1128.6 231.6 1128.6 224.4 L1128.6 67.7 Q1128.6 60.5 1135.8 60.5 Z" fill="#ffffff" fill-opacity="0.8" stroke="#cccccc" stroke-opacity="0.8" stroke-width="1.39"/>
<rect x="1141" y="88.0" width="75" height="3" fill="#e41a1c"/>
<text class="leg" x="1244.1" y="102.10">ε<tspan class="sub" dx="-0.7" dy="5.92">1</tspan><tspan dx="0.7" dy="-5.92">x</tspan></text>
<rect x="1141" y="141.0" width="75" height="3" fill="#377eb8"/>
<text class="leg" x="1244.1" y="155.30">ε<tspan class="sub" dx="-0.7" dy="5.92">1</tspan><tspan dx="0.7" dy="-5.92">y</tspan></text>
<rect x="1141" y="195.0" width="75" height="3" fill="#4daf4a"/>
<text class="leg" x="1244.1" y="209.20">ε<tspan class="sub" dx="-0.7" dy="5.92">1</tspan><tspan dx="0.7" dy="-5.92">z</tspan></text>
</svg>
</body>
</html>
